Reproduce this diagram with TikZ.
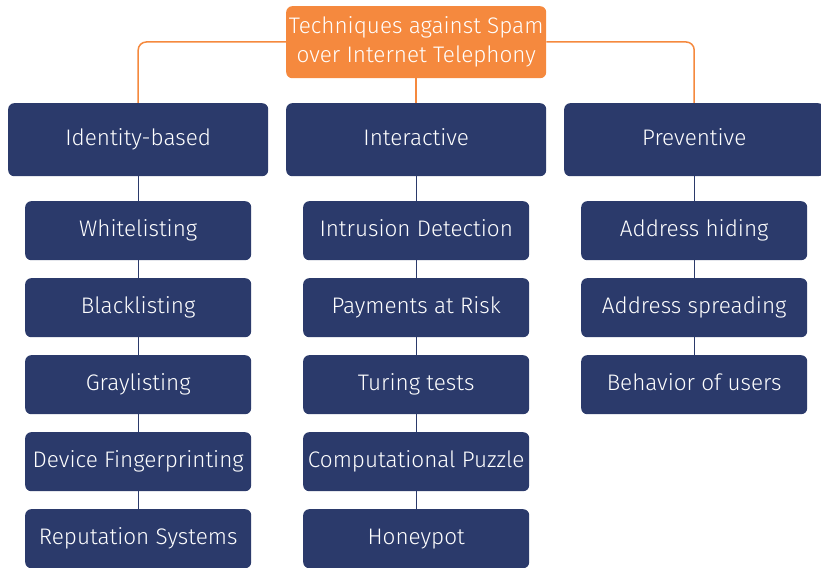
\documentclass[tikz,border=0pt]{standalone}
\usepackage{fontspec}
\setmainfont{Fira Sans Light}
\definecolor{navy}{HTML}{2B3A6B}
\definecolor{orng}{HTML}{F5893E}
\begin{document}
\begin{tikzpicture}[x=1pt,y=-1pt,
  box/.style={fill=navy, rounded corners=6pt, text=white, font=\fontsize{22.5}{27}\selectfont, inner sep=0pt, anchor=north west, text height=16pt, text depth=5pt},
  top/.style={box, fill=orng},
  l1/.style={box, minimum width=260pt, minimum height=73pt},
  l2/.style={box, minimum width=226pt, minimum height=59pt},
  nline/.style={draw=navy, line width=1.3pt},
  oline/.style={draw=orng, line width=1.5pt}]
\useasboundingbox (0,0) rectangle (821,567);
\node[top, minimum width=260pt, minimum height=72pt, align=center, text height=, text depth=, font=\fontsize{22.5}{29}\selectfont] (t) at (286,6) {Techniques against Spam\\over Internet Telephony};
\node[l1] (a) at (8,103) {Identity-based};
\node[l1] (b) at (286,103) {Interactive};
\node[l1] (c) at (564,103) {Preventive};
\foreach \n/\t [count=\i from 0] in {a1/Whitelisting, a2/Blacklisting, a3/Graylisting, a4/Device Fingerprinting, a5/Reputation Systems}
  \node[l2] (\n) at (25,201+77*\i) {\t};
\foreach \n/\t [count=\i from 0] in {b1/Intrusion Detection, b2/Payments at Risk, b3/Turing tests, b4/Computational Puzzle, b5/Honeypot}
  \node[l2] (\n) at (303,201+77*\i) {\t};
\foreach \n/\t [count=\i from 0] in {c1/Address hiding, c2/Address spreading, c3/Behavior of users}
  \node[l2] (\n) at (581,201+77*\i) {\t};
\draw[oline, rounded corners=8pt] (t.west |- 0,42) -| (a.north);
\draw[oline, rounded corners=8pt] (t.east |- 0,42) -| (c.north);
\draw[oline] (t.south) -- (b.north);
\draw[nline] (a.south) -- (a1.north);
\foreach \x/\y in {a1/a2,a2/a3,a3/a4,a4/a5} \draw[nline] (\x.south) -- (\y.north);
\draw[nline] (b.south) -- (b1.north);
\foreach \x/\y in {b1/b2,b2/b3,b3/b4,b4/b5} \draw[nline] (\x.south) -- (\y.north);
\draw[nline] (c.south) -- (c1.north);
\foreach \x/\y in {c1/c2,c2/c3} \draw[nline] (\x.south) -- (\y.north);
\end{tikzpicture}
\end{document}
